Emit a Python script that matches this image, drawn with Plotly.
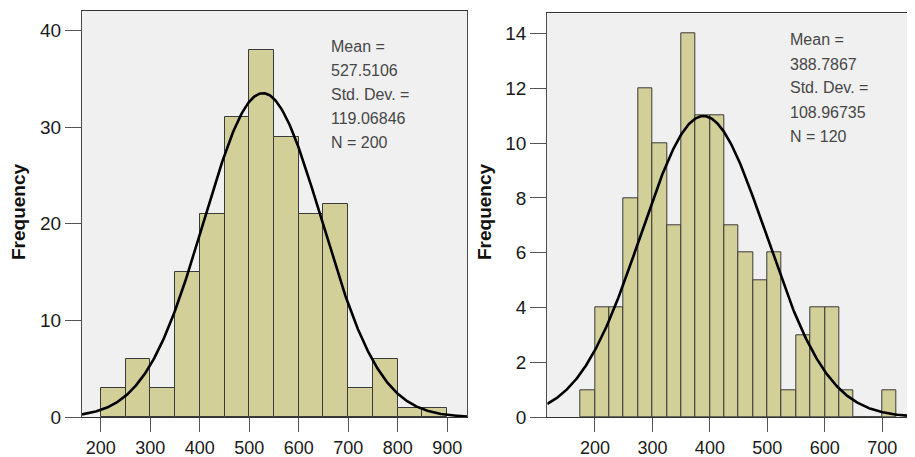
import numpy as np
import plotly.graph_objects as go

# ---------------- data ----------------
# Left histogram (bin width 50, first bin starts at 200)
left_bin_start = 200
left_bin_width = 50
left_counts = [3, 6, 3, 15, 21, 31, 38, 29, 21, 22, 3, 6, 1, 1]
left_mean = 527.5106
left_sd = 119.06846
left_n = 200
left_stats = ["Mean =", "527.5106", "Std. Dev. =", "119.06846", "N = 200"]
left_xticks = [200, 300, 400, 500, 600, 700, 800, 900]
left_yticks = [0, 10, 20, 30, 40]

# Right histogram (bin width 25, first bin starts at 175)
right_bin_start = 175
right_bin_width = 25
right_counts = [1, 4, 4, 8, 12, 10, 7, 14, 11, 11, 7, 6, 5, 6, 1, 3, 4, 4, 1, 0, 0, 1]
right_mean = 388.7867
right_sd = 108.96735
right_n = 120
right_stats = ["Mean =", "388.7867", "Std. Dev. =", "108.96735", "N = 120"]
right_xticks = [200, 300, 400, 500, 600, 700]
right_yticks = [0, 2, 4, 6, 8, 10, 12, 14]

y_title = "Frequency"

# ---------------- style ----------------
# The page body has an 8px default margin, so the figure is sized to the
# visible window and every screen position is shifted by that offset.
OFF = 8
W, H = 915 - OFF, 457 - OFF
BAR_FILL = "#D3CF99"
BAR_LINE = "#3a3a3a"
BG = "#F0F0F0"
FRAME = "#4a4a4a"
XTICK_FONT = dict(family="Liberation Sans, Arial, sans-serif", size=18, color="#1a1a1a")
YTICK_FONT = dict(family="Liberation Sans, Arial, sans-serif", size=19, color="#1a1a1a")
STAT_FONT = dict(family="Liberation Sans, Arial, sans-serif", size=16, color="#474747")


def px_x(p):
    return (p - OFF) / W


def px_y(p):
    return 1 - (p - OFF) / H


def normal_curve(mean, sd, n, bw, lo, hi):
    xs = np.linspace(lo, hi, 400)
    ys = n * bw / (sd * np.sqrt(2 * np.pi)) * np.exp(-0.5 * ((xs - mean) / sd) ** 2)
    return xs, ys


fig = go.Figure()

panels = [
    dict(xa="x", ya="y", start=left_bin_start, bw=left_bin_width, counts=left_counts,
         mean=left_mean, sd=left_sd, n=left_n, xrange=[162, 940], yrange=[0, 42.0]),
    dict(xa="x2", ya="y2", start=right_bin_start, bw=right_bin_width, counts=right_counts,
         mean=right_mean, sd=right_sd, n=right_n, xrange=[117, 757], yrange=[0, 14.73]),
]

for p in panels:
    centers = [p["start"] + p["bw"] * (i + 0.5) for i in range(len(p["counts"]))]
    fig.add_trace(go.Bar(
        x=centers, y=p["counts"], width=p["bw"],
        marker=dict(color=BAR_FILL, line=dict(color=BAR_LINE, width=1)),
        xaxis=p["xa"], yaxis=p["ya"], showlegend=False, hoverinfo="skip",
    ))
    cx, cy = normal_curve(p["mean"], p["sd"], p["n"], p["bw"], p["xrange"][0], p["xrange"][1])
    fig.add_trace(go.Scatter(
        x=cx, y=cy, mode="lines", line=dict(color="black", width=2.6),
        xaxis=p["xa"], yaxis=p["ya"], showlegend=False, hoverinfo="skip", cliponaxis=True,
    ))

common_x = dict(ticks="outside", ticklen=14, tickwidth=1.3, tickcolor="#555555",
                showgrid=False, zeroline=False, showline=True, linecolor="#333333", linewidth=1.3,
                tickfont=XTICK_FONT, fixedrange=True, automargin=False)
common_y = dict(ticks="outside", ticklen=16, tickwidth=1.3, tickcolor="#555555",
                showgrid=False, zeroline=False, showline=True, linecolor=FRAME, linewidth=1.2,
                tickfont=YTICK_FONT, fixedrange=True, automargin=False)

fig.update_layout(
    template="none",
    width=W, height=H,
    margin=dict(l=0, r=0, t=0, b=0, pad=0),
    paper_bgcolor="white",
    plot_bgcolor=BG,
    bargap=0,
    xaxis=dict(domain=[px_x(82), px_x(467)], range=panels[0]["xrange"], anchor="y",
               tickvals=left_xticks, mirror=True, **common_x),
    yaxis=dict(domain=[px_y(417.3), px_y(11)], range=panels[0]["yrange"], anchor="x",
               tickvals=left_yticks, mirror=True, **common_y),
    xaxis2=dict(domain=[px_x(547.3), 1.0], range=panels[1]["xrange"], anchor="y2",
                tickvals=right_xticks, mirror=True, **common_x),
    yaxis2=dict(domain=[px_y(417.3), px_y(13.3)], range=panels[1]["yrange"], anchor="x2",
                tickvals=right_yticks, mirror=False, **common_y),
)

annotations = []
# Y-axis titles
for xc in (19, 485):
    annotations.append(dict(
        text=f"<b>{y_title}</b>", xref="paper", yref="paper",
        x=px_x(xc), y=px_y(212), textangle=-90, showarrow=False,
        xanchor="center", yanchor="middle",
        font=dict(family="Liberation Sans, Arial, sans-serif", size=19, color="#111111"),
    ))

# Statistics text
for stats, x0, y0 in ((left_stats, 329, 46.7), (right_stats, 788.3, 40)):
    for i, line in enumerate(stats):
        annotations.append(dict(
            text=line, xref="paper", yref="paper",
            x=px_x(x0), y=px_y(y0 + i * 24), showarrow=False,
            xanchor="left", yanchor="middle", font=STAT_FONT,
        ))

fig.update_layout(annotations=annotations)

fig.write_html("out.html")
